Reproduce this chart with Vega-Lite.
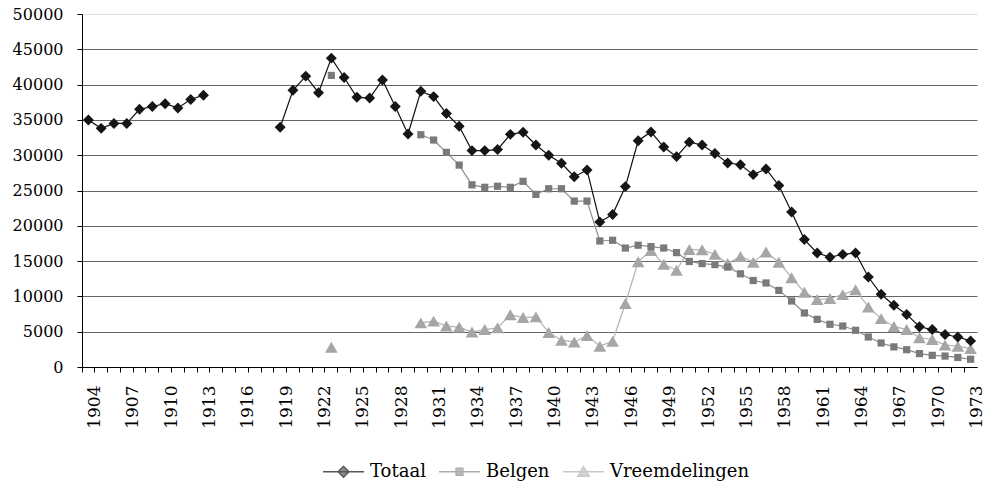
{
  "$schema": "https://vega.github.io/schema/vega-lite/v6.json",
  "width": 895,
  "height": 353,
  "autosize": {"type": "none"},
  "padding": {"left": 82, "top": 14, "right": 12, "bottom": 119},
  "background": "white",
  "config": {"view": {"stroke": null}, "font": "DejaVu Serif", "legend": {"labelFont": "DejaVu Serif", "labelFontSize": 18, "labelColor": "#000"}},
  "data": {"values": [
    {"year":1923,"series":"Vreemdelingen","value":2800},
    {"year":1924,"series":"Vreemdelingen","value":null},
    {"year":1929,"series":"Vreemdelingen","value":null},
    {"year":1930,"series":"Vreemdelingen","value":6250},
    {"year":1931,"series":"Vreemdelingen","value":6500},
    {"year":1932,"series":"Vreemdelingen","value":5800},
    {"year":1933,"series":"Vreemdelingen","value":5650},
    {"year":1934,"series":"Vreemdelingen","value":4950},
    {"year":1935,"series":"Vreemdelingen","value":5300},
    {"year":1936,"series":"Vreemdelingen","value":5550},
    {"year":1937,"series":"Vreemdelingen","value":7400},
    {"year":1938,"series":"Vreemdelingen","value":7000},
    {"year":1939,"series":"Vreemdelingen","value":7100},
    {"year":1940,"series":"Vreemdelingen","value":4900},
    {"year":1941,"series":"Vreemdelingen","value":3800},
    {"year":1942,"series":"Vreemdelingen","value":3550},
    {"year":1943,"series":"Vreemdelingen","value":4450},
    {"year":1944,"series":"Vreemdelingen","value":2950},
    {"year":1945,"series":"Vreemdelingen","value":3650},
    {"year":1946,"series":"Vreemdelingen","value":9000},
    {"year":1947,"series":"Vreemdelingen","value":14900},
    {"year":1948,"series":"Vreemdelingen","value":16500},
    {"year":1949,"series":"Vreemdelingen","value":14550},
    {"year":1950,"series":"Vreemdelingen","value":13700},
    {"year":1951,"series":"Vreemdelingen","value":16650},
    {"year":1952,"series":"Vreemdelingen","value":16600},
    {"year":1953,"series":"Vreemdelingen","value":15950},
    {"year":1954,"series":"Vreemdelingen","value":14650},
    {"year":1955,"series":"Vreemdelingen","value":15650},
    {"year":1956,"series":"Vreemdelingen","value":14850},
    {"year":1957,"series":"Vreemdelingen","value":16300},
    {"year":1958,"series":"Vreemdelingen","value":14850},
    {"year":1959,"series":"Vreemdelingen","value":12650},
    {"year":1960,"series":"Vreemdelingen","value":10600},
    {"year":1961,"series":"Vreemdelingen","value":9550},
    {"year":1962,"series":"Vreemdelingen","value":9700},
    {"year":1963,"series":"Vreemdelingen","value":10250},
    {"year":1964,"series":"Vreemdelingen","value":10950},
    {"year":1965,"series":"Vreemdelingen","value":8500},
    {"year":1966,"series":"Vreemdelingen","value":6850},
    {"year":1967,"series":"Vreemdelingen","value":5750},
    {"year":1968,"series":"Vreemdelingen","value":5300},
    {"year":1969,"series":"Vreemdelingen","value":4150},
    {"year":1970,"series":"Vreemdelingen","value":3900},
    {"year":1971,"series":"Vreemdelingen","value":3100},
    {"year":1972,"series":"Vreemdelingen","value":2950},
    {"year":1973,"series":"Vreemdelingen","value":2600},
    {"year":1923,"series":"Belgen","value":41300},
    {"year":1924,"series":"Belgen","value":null},
    {"year":1929,"series":"Belgen","value":null},
    {"year":1930,"series":"Belgen","value":32900},
    {"year":1931,"series":"Belgen","value":32150},
    {"year":1932,"series":"Belgen","value":30400},
    {"year":1933,"series":"Belgen","value":28600},
    {"year":1934,"series":"Belgen","value":25800},
    {"year":1935,"series":"Belgen","value":25450},
    {"year":1936,"series":"Belgen","value":25600},
    {"year":1937,"series":"Belgen","value":25450},
    {"year":1938,"series":"Belgen","value":26300},
    {"year":1939,"series":"Belgen","value":24450},
    {"year":1940,"series":"Belgen","value":25250},
    {"year":1941,"series":"Belgen","value":25250},
    {"year":1942,"series":"Belgen","value":23500},
    {"year":1943,"series":"Belgen","value":23500},
    {"year":1944,"series":"Belgen","value":17850},
    {"year":1945,"series":"Belgen","value":17950},
    {"year":1946,"series":"Belgen","value":16850},
    {"year":1947,"series":"Belgen","value":17250},
    {"year":1948,"series":"Belgen","value":17050},
    {"year":1949,"series":"Belgen","value":16850},
    {"year":1950,"series":"Belgen","value":16200},
    {"year":1951,"series":"Belgen","value":14950},
    {"year":1952,"series":"Belgen","value":14650},
    {"year":1953,"series":"Belgen","value":14500},
    {"year":1954,"series":"Belgen","value":14150},
    {"year":1955,"series":"Belgen","value":13200},
    {"year":1956,"series":"Belgen","value":12250},
    {"year":1957,"series":"Belgen","value":11900},
    {"year":1958,"series":"Belgen","value":10850},
    {"year":1959,"series":"Belgen","value":9350},
    {"year":1960,"series":"Belgen","value":7650},
    {"year":1961,"series":"Belgen","value":6750},
    {"year":1962,"series":"Belgen","value":6050},
    {"year":1963,"series":"Belgen","value":5800},
    {"year":1964,"series":"Belgen","value":5200},
    {"year":1965,"series":"Belgen","value":4250},
    {"year":1966,"series":"Belgen","value":3400},
    {"year":1967,"series":"Belgen","value":2850},
    {"year":1968,"series":"Belgen","value":2450},
    {"year":1969,"series":"Belgen","value":1900},
    {"year":1970,"series":"Belgen","value":1650},
    {"year":1971,"series":"Belgen","value":1550},
    {"year":1972,"series":"Belgen","value":1350},
    {"year":1973,"series":"Belgen","value":1100},
    {"year":1904,"series":"Totaal","value":35000},
    {"year":1905,"series":"Totaal","value":33800},
    {"year":1906,"series":"Totaal","value":34500},
    {"year":1907,"series":"Totaal","value":34500},
    {"year":1908,"series":"Totaal","value":36500},
    {"year":1909,"series":"Totaal","value":36900},
    {"year":1910,"series":"Totaal","value":37300},
    {"year":1911,"series":"Totaal","value":36700},
    {"year":1912,"series":"Totaal","value":37900},
    {"year":1913,"series":"Totaal","value":38500},
    {"year":1914,"series":"Totaal","value":null},
    {"year":1918,"series":"Totaal","value":null},
    {"year":1919,"series":"Totaal","value":33950},
    {"year":1920,"series":"Totaal","value":39200},
    {"year":1921,"series":"Totaal","value":41200},
    {"year":1922,"series":"Totaal","value":38850},
    {"year":1923,"series":"Totaal","value":43750},
    {"year":1924,"series":"Totaal","value":41000},
    {"year":1925,"series":"Totaal","value":38200},
    {"year":1926,"series":"Totaal","value":38100},
    {"year":1927,"series":"Totaal","value":40650},
    {"year":1928,"series":"Totaal","value":36900},
    {"year":1929,"series":"Totaal","value":33000},
    {"year":1930,"series":"Totaal","value":39050},
    {"year":1931,"series":"Totaal","value":38300},
    {"year":1932,"series":"Totaal","value":35900},
    {"year":1933,"series":"Totaal","value":34100},
    {"year":1934,"series":"Totaal","value":30650},
    {"year":1935,"series":"Totaal","value":30650},
    {"year":1936,"series":"Totaal","value":30800},
    {"year":1937,"series":"Totaal","value":32950},
    {"year":1938,"series":"Totaal","value":33250},
    {"year":1939,"series":"Totaal","value":31450},
    {"year":1940,"series":"Totaal","value":30000},
    {"year":1941,"series":"Totaal","value":28850},
    {"year":1942,"series":"Totaal","value":26950},
    {"year":1943,"series":"Totaal","value":27900},
    {"year":1944,"series":"Totaal","value":20550},
    {"year":1945,"series":"Totaal","value":21600},
    {"year":1946,"series":"Totaal","value":25550},
    {"year":1947,"series":"Totaal","value":32050},
    {"year":1948,"series":"Totaal","value":33300},
    {"year":1949,"series":"Totaal","value":31150},
    {"year":1950,"series":"Totaal","value":29800},
    {"year":1951,"series":"Totaal","value":31850},
    {"year":1952,"series":"Totaal","value":31450},
    {"year":1953,"series":"Totaal","value":30250},
    {"year":1954,"series":"Totaal","value":28900},
    {"year":1955,"series":"Totaal","value":28650},
    {"year":1956,"series":"Totaal","value":27250},
    {"year":1957,"series":"Totaal","value":28050},
    {"year":1958,"series":"Totaal","value":25700},
    {"year":1959,"series":"Totaal","value":21950},
    {"year":1960,"series":"Totaal","value":18050},
    {"year":1961,"series":"Totaal","value":16150},
    {"year":1962,"series":"Totaal","value":15550},
    {"year":1963,"series":"Totaal","value":15950},
    {"year":1964,"series":"Totaal","value":16150},
    {"year":1965,"series":"Totaal","value":12750},
    {"year":1966,"series":"Totaal","value":10300},
    {"year":1967,"series":"Totaal","value":8750},
    {"year":1968,"series":"Totaal","value":7450},
    {"year":1969,"series":"Totaal","value":5700},
    {"year":1970,"series":"Totaal","value":5300},
    {"year":1971,"series":"Totaal","value":4600},
    {"year":1972,"series":"Totaal","value":4250},
    {"year":1973,"series":"Totaal","value":3700}
  ]},
  "encoding": {
    "x": {
      "field": "year",
      "type": "ordinal",
      "scale": {
        "type": "band",
        "paddingInner": 0,
        "paddingOuter": 0,
        "domain": [1904,1905,1906,1907,1908,1909,1910,1911,1912,1913,1914,1915,1916,1917,1918,1919,1920,1921,1922,1923,1924,1925,1926,1927,1928,1929,1930,1931,1932,1933,1934,1935,1936,1937,1938,1939,1940,1941,1942,1943,1944,1945,1946,1947,1948,1949,1950,1951,1952,1953,1954,1955,1956,1957,1958,1959,1960,1961,1962,1963,1964,1965,1966,1967,1968,1969,1970,1971,1972,1973]
      },
      "axis": {
        "title": null,
        "labelAngle": 270,
        "labelExpr": "(datum.value - 1904) % 3 === 0 ? datum.label : ''",
        "labelFont": "DejaVu Serif",
        "labelFontSize": 17,
        "labelColor": "#000",
        "labelOverlap": false,
        "labelPadding": 13,
        "labelOffset": 6.4,
        "bandPosition": 0,
        "tickSize": 5,
        "tickColor": "#000",
        "domainColor": "#000",
        "grid": false
      }
    },
    "y": {
      "field": "value",
      "type": "quantitative",
      "scale": {"domain": [0, 50000], "nice": false},
      "axis": {
        "title": null,
        "values": [0,5000,10000,15000,20000,25000,30000,35000,40000,45000,50000],
        "format": "d",
        "labelFont": "DejaVu Serif",
        "labelFontSize": 16,
        "labelColor": "#000",
        "labelPadding": 14,
        "tickSize": 5,
        "tickColor": "#000",
        "domainColor": "#000",
        "grid": true,
        "gridColor": {"condition": {"test": "datum.value === 50000", "value": "#dddddd"}, "value": "#666666"},
        "gridWidth": 1.2
      }
    }
  },
  "layer": [
    {
      "mark": {"type": "line", "invalid": "break-paths-show-domains", "strokeWidth": 1.2},
      "encoding": {
        "color": {
          "field": "series", "type": "nominal",
          "scale": {"domain": ["Totaal", "Belgen", "Vreemdelingen"], "range": ["#111111", "#8c8c8c", "#b3b3b3"]},
          "legend": null
        }
      }
    },
    {
      "transform": [{"filter": "datum.series === 'Vreemdelingen'"}],
      "mark": {"type": "point", "filled": true, "opacity": 1, "shape": "triangle-up", "size": 160, "color": "#a6a6a6"}
    },
    {
      "transform": [{"filter": "datum.series === 'Belgen'"}],
      "mark": {"type": "point", "filled": true, "opacity": 1, "shape": "square", "size": 52, "color": "#7a7a7a"}
    },
    {
      "transform": [{"filter": "datum.series === 'Totaal'"}],
      "mark": {"type": "point", "filled": true, "opacity": 1, "shape": "diamond", "size": 120, "color": "#151515"}
    },
    {
      "transform": [{"filter": "false"}],
      "mark": {"type": "point", "filled": true, "size": 1681, "strokeWidth": 1.3},
      "encoding": {
        "shape": {
          "field": "series", "type": "nominal",
          "scale": {"domain": ["Totaal", "Belgen", "Vreemdelingen"], "range": ["M-1,0H1M0,-0.27L0.27,0L0,0.27L-0.27,0Z", "M-1,0H1M-0.17,-0.17H0.17V0.17H-0.17Z", "M-1,0H1M0,-0.27L0.28,0.22H-0.28Z"]},
          "legend": {"title": null, "orient": "none", "legendX": 240, "legendY": 436, "direction": "horizontal", "padding": 0, "labelFont": "DejaVu Serif", "labelFontSize": 18, "labelColor": "#000", "symbolSize": 1681, "symbolStrokeWidth": 1.3, "columnPadding": 10, "labelOffset": 5}
        },
        "fill": {
          "field": "series", "type": "nominal",
          "scale": {"domain": ["Totaal", "Belgen", "Vreemdelingen"], "range": ["#151515", "#7a7a7a", "#a6a6a6"]},
          "legend": {"title": null, "orient": "none", "legendX": 240, "legendY": 436, "direction": "horizontal", "padding": 0, "labelFont": "DejaVu Serif", "labelFontSize": 18, "labelColor": "#000", "symbolSize": 1681, "symbolStrokeWidth": 1.3, "columnPadding": 10, "labelOffset": 5}
        },
        "stroke": {
          "field": "series", "type": "nominal",
          "scale": {"domain": ["Totaal", "Belgen", "Vreemdelingen"], "range": ["#111111", "#8c8c8c", "#b3b3b3"]},
          "legend": {"title": null, "orient": "none", "legendX": 240, "legendY": 436, "direction": "horizontal", "padding": 0, "labelFont": "DejaVu Serif", "labelFontSize": 18, "labelColor": "#000", "symbolSize": 1681, "symbolStrokeWidth": 1.3, "columnPadding": 10, "labelOffset": 5}
        }
      }
    }
  ],
  "resolve": {"scale": {"color": "independent", "shape": "independent", "fill": "independent", "stroke": "independent"}}
}
